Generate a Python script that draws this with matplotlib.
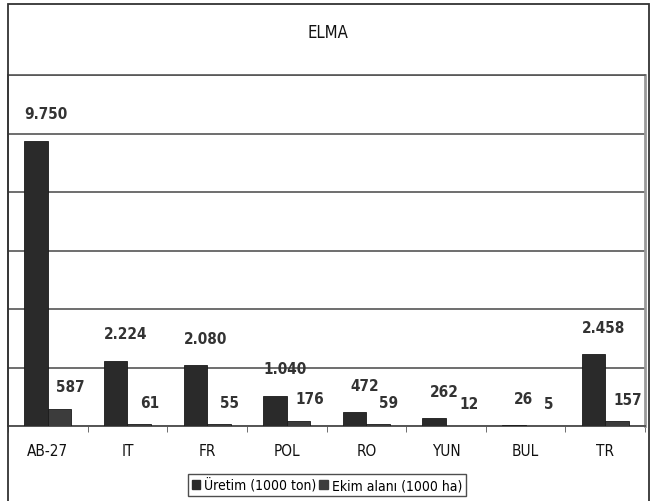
import matplotlib
matplotlib.use("Agg")
import matplotlib.pyplot as plt
import numpy as np
from matplotlib.patches import Rectangle

plt.rcParams['font.family'] = ['DejaVu Sans']
plt.rcParams['font.stretch'] = 'condensed'

title = "ELMA"
categories = ["AB-27", "IT", "FR", "POL", "RO", "YUN", "BUL", "TR"]
uretim = [9750, 2224, 2080, 1040, 472, 262, 26, 2458]
ekim = [587, 61, 55, 176, 59, 12, 5, 157]
series_names = ["Üretim (1000 ton)", "Ekim alanı (1000 ha)"]

def fmt(v):
    return f"{v:,}".replace(",", ".")

W, H = 656, 502
PX = 72 / 100  # points per pixel
fig = plt.figure(figsize=(W / 100, H / 100), dpi=100)
fig.patch.set_facecolor("white")

# outer frame
fig.patches.append(Rectangle((8 / W, -0.05), 641 / W, (H - 5) / H + 0.05,
                             transform=fig.transFigure, fill=False,
                             edgecolor="#333333", lw=1.3, zorder=0))

ax = fig.add_axes([8 / W, 1 - 427 / H, 637 / W, 351 / H])
x = np.arange(len(categories))
bw = 0.295
c1, c2 = "#2a2a2a", "#3c3c3c"
ax.bar(x - bw / 2, uretim, bw, color=c1, edgecolor="#1a1a1a", lw=0.6, zorder=3)
ax.bar(x + bw / 2, ekim, bw, color=c2, edgecolor="#1a1a1a", lw=0.6, zorder=3)

ax.set_xlim(-0.5, len(categories) - 0.5)
ax.set_ylim(0, 12000)
ax.set_yticks(np.arange(0, 12001, 2000))
ax.yaxis.grid(True, color="#555555", lw=1.2, zorder=0)
ax.tick_params(axis="y", left=False, labelleft=False)
ax.set_xticks(x)
ax.set_xticklabels(categories, fontsize=11, color="#111111")
ax.tick_params(axis="x", length=0, pad=12)
ax.set_xticks(np.arange(-0.5, len(categories), 1.0), minor=True)
ax.tick_params(axis="x", which="minor", length=4, direction="out", color="#555555")
for s in ["left", "top"]:
    ax.spines[s].set_color("#555555")
    ax.spines[s].set_linewidth(1.2)
ax.spines["right"].set_color("#999999")
ax.spines["right"].set_linewidth(2)
ax.spines["bottom"].set_color("#555555")
ax.spines["bottom"].set_linewidth(1.4)

for xi, v in zip(x, uretim):
    ax.annotate(fmt(v), (xi - bw / 2, v), xytext=(10 * PX, 27 * PX), textcoords="offset points",
                ha="center", va="center", fontsize=11, fontweight="bold", color="#333333")
for xi, v in zip(x, ekim):
    ax.annotate(fmt(v), (xi + bw / 2, v), xytext=(11 * PX, 22 * PX), textcoords="offset points",
                ha="center", va="center", fontsize=11, fontweight="bold", color="#333333")

fig.text(0.5, 1 - 33 / H, title, ha="center", va="center", fontsize=12, color="#111111")

handles = [Rectangle((0, 0), 1, 1, color=c1), Rectangle((0, 0), 1, 1, color=c2)]
leg = fig.legend(handles, series_names, loc="center", bbox_to_anchor=(327 / W, 1 - 486 / H),
                 ncol=2, fontsize=10, frameon=True, fancybox=False, handlelength=0.6,
                 handleheight=0.6, handletextpad=0.3, columnspacing=0.2, borderpad=0.3,
                 borderaxespad=0)
leg.get_frame().set_edgecolor("#222222")
leg.get_frame().set_linewidth(1.0)

fig.savefig("out.png", dpi=100)
